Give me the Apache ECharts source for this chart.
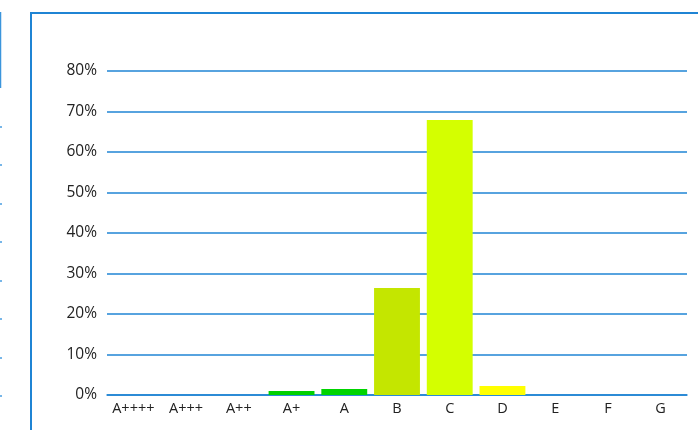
<!DOCTYPE html>
<html>
<head>
<meta charset="utf-8">
<script src="https://cdn.jsdelivr.net/npm/echarts@6/dist/echarts.min.js"></script>
<style>
  html, body { margin: 0; padding: 0; background: #fff; }
  #chart { width: 698px; height: 430px; }
</style>
</head>
<body>
<div id="chart"></div>
<script>
// Energy class distribution
const categories = ['A++++', 'A+++', 'A++', 'A+', 'A', 'B', 'C', 'D', 'E', 'F', 'G'];
const shares = [0, 0, 0, 1.0, 1.5, 26.4, 67.9, 2.2, 0, 0, 0];
const barColors = ['#00d000', '#00d000', '#00d000', '#00d000', '#00d400', '#c4e600', '#d4ff00', '#ffff00', '#ffff00', '#ffff00', '#ffff00'];
const yTicks = [0, 10, 20, 30, 40, 50, 60, 70, 80];

const chart = echarts.init(document.getElementById('chart'), null, { renderer: 'canvas' });

const blue = '#1f84d4';
const edgeTicks = [127, 165, 204, 242, 281, 319, 358, 396].map(y => ({
  type: 'line',
  shape: { x1: 0, y1: y, x2: 2, y2: y },
  style: { stroke: '#4a9ee0', lineWidth: 1.5 },
  silent: true
}));

chart.setOption({
  animation: false,
  grid: { left: 107, right: 11, top: 71, bottom: 35, containLabel: false },
  xAxis: {
    type: 'category',
    data: categories,
    axisLine: { show: true, lineStyle: { color: blue, width: 1.5 } },
    axisTick: { show: false },
    axisLabel: {
      interval: 0,
      color: '#222', fontSize: 14.5, margin: 6,
      fontFamily: 'Open Sans, Noto Sans, sans-serif'
    }
  },
  yAxis: {
    type: 'value',
    min: yTicks[0],
    max: yTicks[yTicks.length - 1],
    interval: 10,
    axisLine: { show: false },
    axisTick: { show: false },
    splitLine: { show: true, lineStyle: { color: blue, width: 1.5 } },
    axisLabel: {
      color: '#222', fontSize: 15.5, margin: 10,
      fontFamily: 'Open Sans, Noto Sans, sans-serif',
      formatter: v => v + '%'
    }
  },
  series: [{
    type: 'bar',
    data: shares.map((v, i) => ({ value: v, itemStyle: { color: barColors[i] } })),
    barCategoryGap: '13%'
  }],
  graphic: [
    {
      type: 'polyline',
      shape: { points: [[31, 430], [31, 13], [698, 13]] },
      style: { stroke: blue, lineWidth: 2, fill: null },
      silent: true
    },
    {
      type: 'line',
      shape: { x1: 0.5, y1: 12, x2: 0.5, y2: 88 },
      style: { stroke: '#3b95dc', lineWidth: 1.5 },
      silent: true
    }
  ].concat(edgeTicks)
});
</script>
</body>
</html>
